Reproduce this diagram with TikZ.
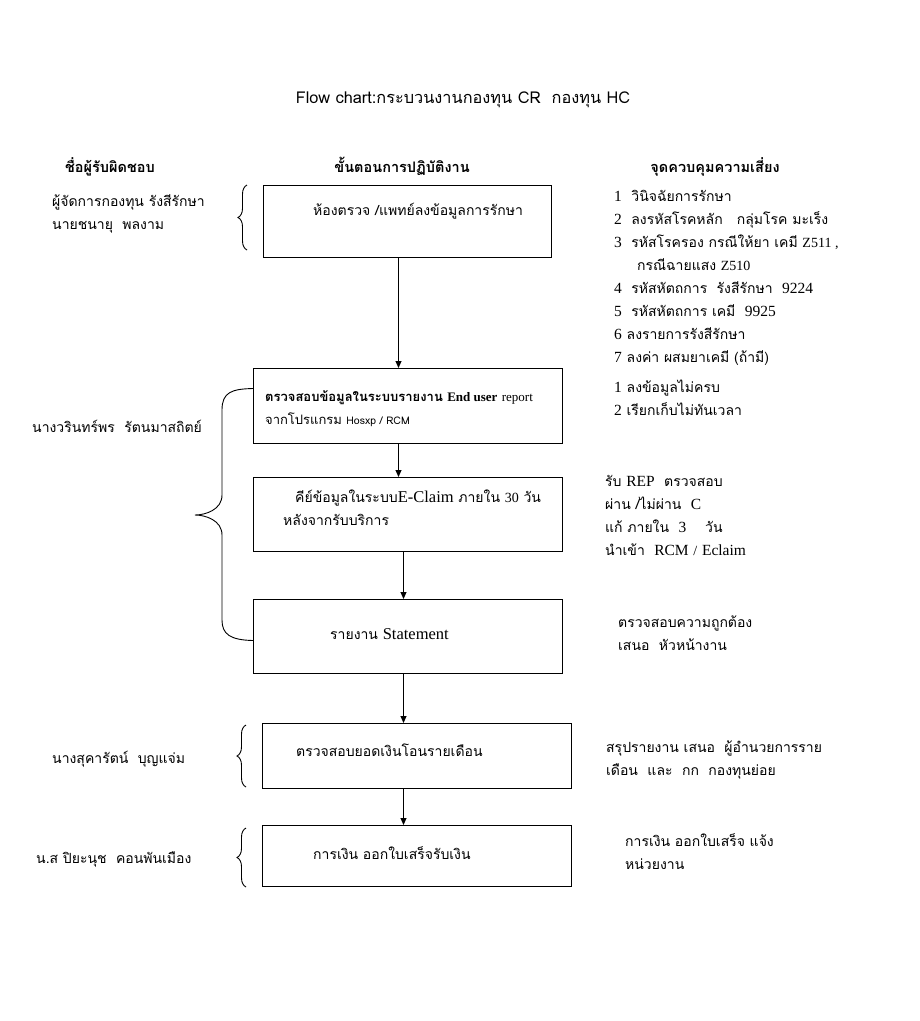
\documentclass[tikz,border=0pt]{standalone}
\usepackage{fontspec}
\newfontfamily\thai[Script=Thai]{Loma}
\newfontfamily\tms{Liberation Serif}
\newcommand{\tn}[1]{{\tms\fontsize{15.5}{23}\selectfont #1}}
\usetikzlibrary{arrows.meta,decorations.pathreplacing}
\tikzset{
  box/.style={draw, line width=1pt, anchor=north west, inner sep=0pt},
  arr/.style={-{Triangle[length=7pt,width=6pt]}, line width=1pt},
  txt/.style={anchor=base west, align=left, inner sep=0pt, font=\thai\fontsize{14}{23}\selectfont},
  hdr/.style={anchor=base, inner sep=0pt, font=\thai\bfseries\fontsize{14.5}{23}\selectfont},
  brc/.style={draw, line width=0.9pt, decorate, decoration={brace, amplitude=9pt, mirror}},
}
\begin{document}
\begin{tikzpicture}[x=1pt,y=-1pt]
\useasboundingbox[fill=white] (0,0) rectangle (920,1021);
% title and headers
\node[hdr, font=\thai\fontsize{16.3}{18}\selectfont] (title) at (463,103) {Flow chart:กระบวนงานกองทุน CR\ \ กองทุน HC};
\node[hdr] (h1) at (110,172) {ชื่อผู้รับผิดชอบ};
\node[hdr] (h2) at (402,172) {ขั้นตอนการปฏิบัติงาน};
\node[hdr] (h3) at (715,172) {จุดควบคุมความเสี่ยง};
% boxes
\node[box, minimum width=288, minimum height=72] (b1) at (263,185) {};
\node[box, minimum width=309, minimum height=75] (b2) at (253,368) {};
\node[box, minimum width=309, minimum height=74] (b3) at (253,477) {};
\node[box, minimum width=309, minimum height=74] (b4) at (253,599) {};
\node[box, minimum width=309, minimum height=65] (b5) at (262,723) {};
\node[box, minimum width=309, minimum height=61] (b6) at (262,825) {};
% box texts
\node[txt] (t1) at (313,215) {ห้องตรวจ /แพทย์ลงข้อมูลการรักษา};
\node[txt, font=\thai\fontsize{13}{23}\selectfont] (t2) at (265,424) {\textbf{ตรวจสอบข้อมูลในระบบรายงาน {\tms End user} }{\tms report}\\จากโปรแกรม {\fontsize{10.5}{12}\selectfont Hosxp / RCM}};
\node[txt] (t3) at (283,525) {\hspace*{12pt}คีย์ข้อมูลในระบบ{\tms\fontsize{16.5}{23}\selectfont E-Claim} ภายใน {\tms 30} วัน\\หลังจากรับบริการ};
\node[txt] (t4) at (330,639) {รายงาน {\tms\fontsize{16.5}{23}\selectfont Statement}};
\node[txt] (t5) at (296,756) {ตรวจสอบยอดเงินโอนรายเดือน};
\node[txt] (t6) at (313,859) {การเงิน ออกใบเสร็จรับเงิน};
% arrows
\draw[arr] ([xshift=-9pt]b1.south) -- ([xshift=-9pt]b1.south |- b2.north);
\draw[arr] ([xshift=-9.5pt]b2.south) -- ([xshift=-9.5pt]b2.south |- b3.north);
\draw[arr] ([xshift=-4.5pt]b3.south) -- ([xshift=-4.5pt]b3.south |- b4.north);
\draw[arr] ([xshift=-4.5pt]b4.south) -- ([xshift=-4.5pt]b4.south |- b5.north);
\draw[arr] ([xshift=-13.5pt]b5.south) -- ([xshift=-13.5pt]b5.south |- b6.north);
% responsible persons
\node[txt] (p1) at (52,229) {ผู้จัดการกองทุน รังสีรักษา\\นายชนายุ\ \ พลงาม};
\node[txt] (p2) at (32,432) {นางวรินทร์พร\ \ รัตนมาสถิตย์};
\node[txt] (p3) at (52,763) {นางสุคารัตน์\ \ บุญแจ่ม};
\node[txt] (p4) at (36,863) {น.ส ปิยะนุช\ \ คอนพันเมือง};
% braces
\coordinate (br1a) at (247,185); \coordinate (br1b) at (247,250);
\draw[brc] (br1a) -- (br1b);
\coordinate (br3a) at (246,725); \coordinate (br3b) at (246,787);
\draw[brc] (br3a) -- (br3b);
\coordinate (br4a) at (246,828); \coordinate (br4b) at (246,887);
\draw[brc] (br4a) -- (br4b);
\draw[line width=0.9pt] ([yshift=17.5pt]b2.west) .. controls (232,389) and (222,392) .. (222,410)
  -- (222,495) .. controls (222,510) and (205,515) .. (195,515)
  .. controls (205,515) and (222,520) .. (222,535)
  -- (222,620) .. controls (222,634) and (230,640) .. ([yshift=-4pt]b4.west);
% risk control points
\node[txt] (r1) at (614,362) {\tn{1}\ \ วินิจฉัยการรักษา\\
\tn{2}\ \ ลงรหัสโรคหลัก\ \ \ กลุ่มโรค มะเร็ง\\
\tn{3}\ \ รหัสโรครอง กรณีให้ยา เคมี {\tms Z511 ,}\\
\hspace*{23pt}กรณีฉายแสง {\tms Z510}\\
\tn{4}\ \ รหัสหัตถการ\ \ รังสีรักษา\ \ \tn{9224}\\
\tn{5}\ \ รหัสหัตถการ เคมี\ \ \tn{9925}\\
\tn{6} ลงรายการรังสีรักษา\\
\tn{7} ลงค่า ผสมยาเคมี (ถ้ามี)};
\node[txt] (r2) at (614,415) {\tn{1} ลงข้อมูลไม่ครบ\\\tn{2} เรียกเก็บไม่ทันเวลา};
\node[txt] (r3) at (605,555) {รับ \tn{REP}\ \ ตรวจสอบ\\ผ่าน /ไม่ผ่าน\ \ \tn{C}\\แก้ ภายใน\ \ \tn{3}\ \ \ \ วัน\\นำเข้า\ \ \tn{RCM} {\tms /} \tn{Eclaim}};
\node[txt] (r4) at (618,650) {ตรวจสอบความถูกต้อง\\เสนอ\ \ หัวหน้างาน};
\node[txt] (r5) at (606,775) {สรุปรายงาน เสนอ\ \ ผู้อำนวยการราย\\เดือน\ \ และ\ \ กก\ \ กองทุนย่อย};
\node[txt] (r6) at (625,869) {การเงิน ออกใบเสร็จ แจ้ง\\หน่วยงาน};
\end{tikzpicture}
\end{document}
